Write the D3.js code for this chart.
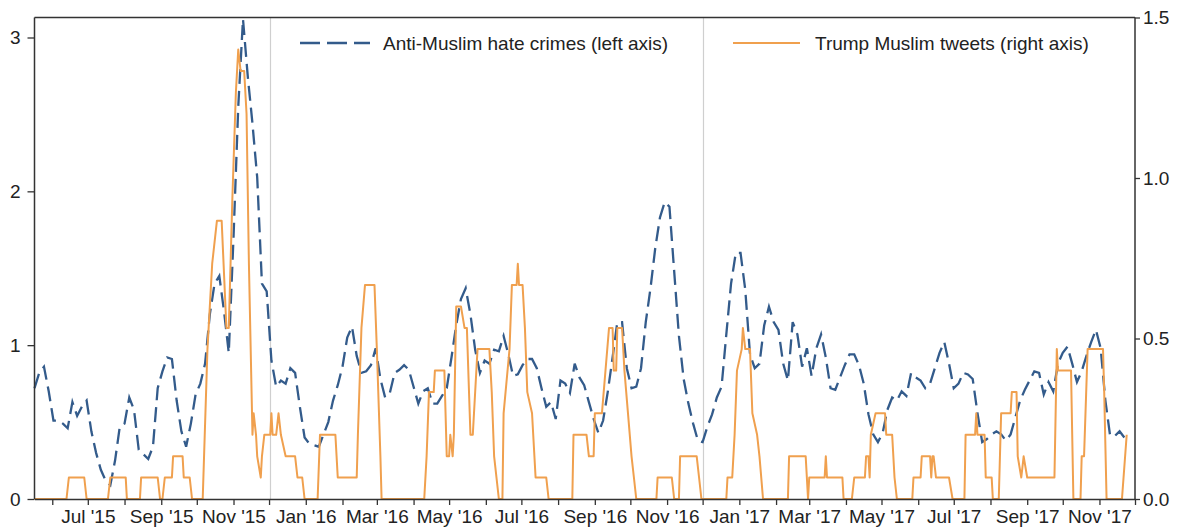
<!DOCTYPE html>
<html>
<head>
<meta charset="utf-8">
<script src="https://cdn.jsdelivr.net/npm/d3@7"></script>
<style>
  body { margin: 0; background: #fff; }
  svg { display: block; }
  text { font-family: "Liberation Sans", Arial, Helvetica, sans-serif; fill: #222; }
</style>
</head>
<body>
<svg id="chart" width="1180" height="527"></svg>
<script>
// Anti-Muslim hate crimes: rolling average, one reading every 4 days (left axis)
const crimesStart = "2015-05-17";
const crimesStepDays = 4;
const crimesValues = [
  .72,.82,.86,.70,.51,.51,.49,.46,.63,.54,
  .60,.64,.44,.30,.19,.12,.09,.25,.47,.49,
  .66,.58,.32,.29,.26,.34,.72,.83,.92,.91,
  .64,.44,.34,.49,.68,.75,.88,1.20,1.40,1.45,
  1.22,.95,1.70,2.55,3.12,2.75,2.44,2.09,1.40,1.35,
  .90,.73,.77,.75,.85,.82,.60,.40,.36,.35,
  .34,.42,.50,.64,.74,.86,1.05,1.12,.93,.82,
  .83,.87,.98,.78,.66,.69,.82,.84,.87,.84,
  .73,.62,.70,.72,.62,.62,.67,.72,.92,1.13,
  1.30,1.37,1.20,.97,.82,.90,.88,.97,.96,1.06,
  .94,.80,.81,.87,.91,.91,.85,.72,.60,.63,
  .52,.77,.75,.69,.88,.79,.74,.63,.52,.43,
  .51,.70,.92,1.15,1.15,.85,.72,.73,.85,1.15,
  1.37,1.63,1.83,1.93,1.90,1.48,1.06,.78,.62,.49,
  .38,.37,.47,.55,.66,.73,1.07,1.40,1.60,1.60,
  1.36,.94,.85,.88,1.13,1.25,1.15,1.10,.88,.77,
  1.15,1.07,.86,.98,.80,.98,1.07,.92,.72,.71,
  .79,.87,.94,.94,.87,.75,.55,.42,.37,.43,
  .58,.66,.64,.70,.67,.82,.79,.77,.72,.75,
  .85,.95,1.02,.88,.72,.75,.82,.81,.78,.56,
  .37,.39,.42,.44,.42,.38,.42,.53,.64,.71,
  .77,.83,.82,.68,.76,.70,.88,.95,.99,.88,
  .76,.83,.93,1.02,1.10,.98,.64,.41,.41,.44,
  .40
];

// Trump Muslim tweets: rolling daily average (right axis), change points
const tweetDates = [
  "2015-05-17","2015-06-13","2015-06-15","2015-06-28","2015-06-30","2015-07-18","2015-07-20","2015-08-02","2015-08-03","2015-08-14",
  "2015-08-15","2015-08-29","2015-08-31","2015-09-02","2015-09-04","2015-09-10","2015-09-11","2015-09-19","2015-09-20","2015-09-25",
  "2015-09-27","2015-10-06","2015-10-10","2015-10-14","2015-10-18","2015-10-22","2015-10-26","2015-10-28","2015-10-31","2015-11-03",
  "2015-11-05","2015-11-07","2015-11-10","2015-11-12","2015-11-14","2015-11-17","2015-11-18","2015-11-20","2015-11-21","2015-11-24",
  "2015-11-25","2015-11-27","2015-12-02","2015-12-03","2015-12-04","2015-12-07","2015-12-09","2015-12-11","2015-12-15","2015-12-23",
  "2015-12-25","2015-12-29","2015-12-31","2016-01-11","2016-01-13","2016-01-26","2016-01-28","2016-02-13","2016-02-14","2016-02-17",
  "2016-02-20","2016-02-28","2016-03-01","2016-03-04","2016-03-05","2016-04-10","2016-04-12","2016-04-14","2016-04-18","2016-04-19",
  "2016-04-27","2016-04-29","2016-05-01","2016-05-02","2016-05-04","2016-05-05","2016-05-07","2016-05-11","2016-05-14","2016-05-16",
  "2016-05-19","2016-05-21","2016-05-25","2016-06-04","2016-06-06","2016-06-08","2016-06-12","2016-06-15","2016-06-16","2016-06-21",
  "2016-06-23","2016-06-27","2016-06-28","2016-06-29","2016-07-02","2016-07-04","2016-07-06","2016-07-10","2016-07-13","2016-07-22",
  "2016-07-24","2016-08-13","2016-08-14","2016-08-25","2016-08-27","2016-08-31","2016-09-01","2016-09-07","2016-09-10","2016-09-13",
  "2016-09-16","2016-09-17","2016-09-19","2016-09-20","2016-09-24","2016-09-26","2016-09-29","2016-10-02","2016-10-04","2016-10-06",
  "2016-10-23","2016-10-24","2016-11-05","2016-11-07","2016-11-11","2016-11-12","2016-11-26","2016-11-28","2016-11-30","2016-12-21",
  "2016-12-22","2016-12-26","2016-12-28","2016-12-30","2017-01-03","2017-01-04","2017-01-06","2017-01-10","2017-01-12","2017-01-16",
  "2017-01-18","2017-01-21","2017-02-11","2017-02-12","2017-02-26","2017-02-28","2017-03-01","2017-03-14","2017-03-15","2017-03-16",
  "2017-03-29","2017-03-30","2017-04-06","2017-04-08","2017-04-17","2017-04-18","2017-04-20","2017-04-21","2017-04-22","2017-04-26",
  "2017-05-04","2017-05-05","2017-05-10","2017-05-12","2017-05-14","2017-05-27","2017-05-28","2017-06-03","2017-06-04","2017-06-11",
  "2017-06-12","2017-06-13","2017-06-14","2017-06-16","2017-06-27","2017-06-30","2017-07-10","2017-07-11","2017-07-19","2017-07-20",
  "2017-07-21","2017-07-27","2017-07-28","2017-08-02","2017-08-03","2017-08-08","2017-08-10","2017-08-18","2017-08-19","2017-08-23",
  "2017-08-24","2017-08-27","2017-08-29","2017-09-01","2017-09-24","2017-09-26","2017-09-27","2017-10-08","2017-10-10","2017-10-16",
  "2017-10-17","2017-10-19","2017-10-22","2017-11-04","2017-11-05","2017-11-07","2017-11-20","2017-11-24"
];
const tweetValues = [
  0,0,.067,.067,0,0,.067,.067,0,0,
  .067,.067,0,0,.067,.067,.133,.133,.067,.067,
  0,0,.467,.733,.867,.867,.533,.533,.933,1.267,
  1.4,1.333,1.333,1.2,.733,.2,.267,.2,.133,.067,
  .133,.2,.2,.267,.2,.2,.267,.2,.133,.133,
  .067,.067,0,0,.2,.2,.067,.067,.2,.533,
  .667,.667,.467,.133,0,0,.133,.333,.333,.4,
  .4,.133,.133,.2,.133,.2,.6,.6,.533,.533,
  .2,.2,.467,.467,.333,.133,0,0,.267,.467,
  .667,.667,.733,.667,.667,.533,.333,.267,.067,.067,
  0,0,.2,.2,.133,.133,.267,.267,.4,.533,
  .533,.4,.4,.533,.533,.4,.267,.133,.067,0,
  0,.067,.067,0,0,.133,.133,.067,0,0,
  .067,.067,.2,.4,.467,.533,.467,.467,.267,.2,
  .133,0,0,.133,.133,0,.067,.067,.133,.067,
  .067,0,0,.067,.067,.133,.133,.067,.2,.267,
  .267,.2,.2,.067,0,0,.067,.067,.133,.133,
  .067,.133,.133,.067,.067,0,0,.2,.2,.267,
  .2,.2,.067,.067,0,0,.267,.267,.333,.333,
  .133,.067,.133,.067,.067,.467,.4,.4,0,0,
  .133,.133,.467,.467,.333,0,0,.2
];

// Reference dates marked with vertical rules
const eventDates = ["2015-12-02", "2016-12-01"];

const xDomain = ["2015-05-17", "2017-12-01"];
const leftTicks = [0, 1, 2, 3];
const rightTicks = [0, 0.5, 1.0, 1.5];
const legendLabels = ["Anti-Muslim hate crimes (left axis)", "Trump Muslim tweets (right axis)"];

const blue = "#335b8b";
const orange = "#f0a04e";
const axisColor = "#333";

const plot = { left: 34.5, right: 1135, top: 17.5, bottom: 499 };
const parse = d3.utcParse("%Y-%m-%d");

const x = d3.scaleUtc()
  .domain(xDomain.map(parse))
  .range([plot.left, plot.right]);
const yL = d3.scaleLinear().domain([0, 3.13]).range([plot.bottom, plot.top]);
const yR = d3.scaleLinear().domain([0, 1.5]).range([plot.bottom, plot.top]);

const crimes = crimesValues.map((v, i) => ({
  date: d3.utcDay.offset(parse(crimesStart), i * crimesStepDays),
  value: v
}));
const tweets = tweetDates.map((d, i) => ({ date: parse(d), value: tweetValues[i] }));

const svg = d3.select("#chart");

// vertical event rules
svg.append("g").selectAll("line")
  .data(eventDates.map(parse))
  .join("line")
  .attr("x1", d => Math.round(x(d)) + 0.5)
  .attr("x2", d => Math.round(x(d)) + 0.5)
  .attr("y1", plot.top)
  .attr("y2", plot.bottom)
  .attr("stroke", "#cfcfcf")
  .attr("stroke-width", 1.2);

// series
svg.append("path")
  .datum(crimes)
  .attr("fill", "none")
  .attr("stroke", blue)
  .attr("stroke-width", 2.3)
  .attr("stroke-dasharray", "15,7")
  .attr("d", d3.line().x(d => x(d.date)).y(d => yL(d.value)));

svg.append("path")
  .datum(tweets)
  .attr("fill", "none")
  .attr("stroke", orange)
  .attr("stroke-width", 2)
  .attr("stroke-linejoin", "round")
  .attr("d", d3.line().x(d => x(d.date)).y(d => yR(d.value)));

// axes
const fontSize = 19;

const xAxis = d3.axisBottom(x)
  .ticks(d3.utcMonth.every(1))
  .tickSize(6)
  .tickSizeOuter(0)
  .tickFormat(d => d.getUTCMonth() % 2 === 0 ? d3.utcFormat("%b '%y")(d) : "");
const gx = svg.append("g").attr("transform", `translate(0,${plot.bottom})`).call(xAxis);
gx.selectAll("text").attr("y", 24).attr("dy", 0);

const gl = svg.append("g").attr("transform", `translate(${plot.left},0)`)
  .call(d3.axisLeft(yL).tickValues(leftTicks).tickFormat(d3.format("d")).tickSize(7).tickPadding(7).tickSizeOuter(0));

const gr = svg.append("g").attr("transform", `translate(${plot.right},0)`)
  .call(d3.axisRight(yR).tickValues(rightTicks).tickFormat(d3.format(".1f")).tickSize(5).tickPadding(3).tickSizeOuter(0));

[gx, gl, gr].forEach(g => {
  g.selectAll(".domain").attr("stroke", axisColor).attr("stroke-width", 1.5);
  g.selectAll(".tick line").attr("stroke", axisColor).attr("stroke-width", 1.3);
  g.selectAll("text").attr("font-size", fontSize).attr("fill", "#222")
    .attr("font-family", '"Liberation Sans", Arial, sans-serif');
});
// y axis domains span the full plot height
gl.select(".domain").attr("d", `M0,${plot.top}V${plot.bottom}`);
gr.select(".domain").attr("d", `M0,${plot.top}V${plot.bottom}`);

// top border
svg.append("line")
  .attr("x1", plot.left).attr("x2", plot.right)
  .attr("y1", plot.top).attr("y2", plot.top)
  .attr("stroke", axisColor).attr("stroke-width", 1.5);

// legend
const legend = svg.append("g").attr("font-size", fontSize);
const legendItems = [
  { label: legendLabels[0], color: blue, dash: "20,7", width: 2.3, x0: 300, x1: 370, tx: 383 },
  { label: legendLabels[1], color: orange, dash: null, width: 2, x0: 733, x1: 800, tx: 815 }
];
legendItems.forEach(it => {
  legend.append("line")
    .attr("x1", it.x0).attr("x2", it.x1).attr("y1", 43).attr("y2", 43)
    .attr("stroke", it.color).attr("stroke-width", it.width)
    .attr("stroke-dasharray", it.dash);
  legend.append("text")
    .attr("x", it.tx).attr("y", 43).attr("dy", "0.35em")
    .text(it.label);
});
</script>
</body>
</html>
